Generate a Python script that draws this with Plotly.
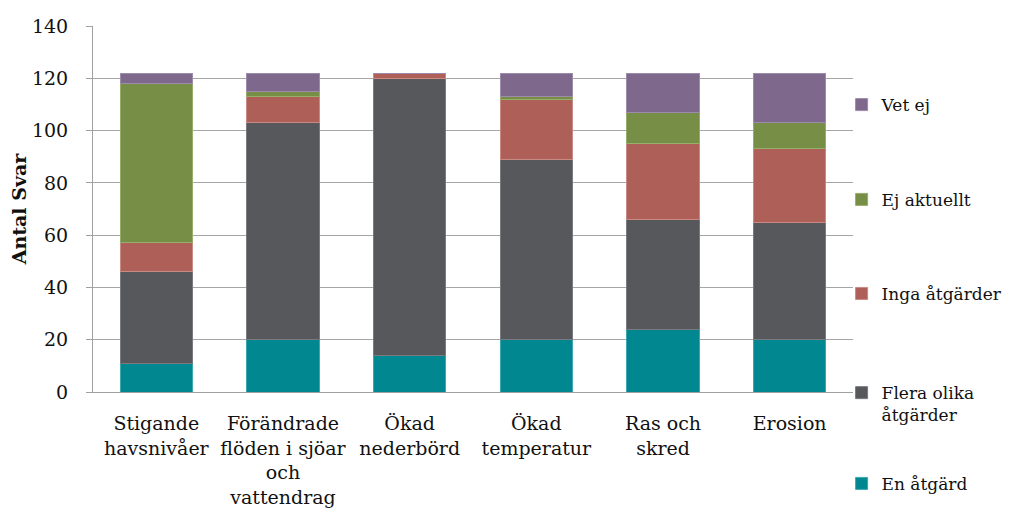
import plotly.graph_objects as go

categories = ["Stigande<br>havsnivåer", "Förändrade<br>flöden i sjöar<br>och<br>vattendrag",
              "Ökad<br>nederbörd", "Ökad<br>temperatur", "Ras och<br>skred", "Erosion"]

en_atgard = [11, 20, 14, 20, 24, 20]
flera_olika = [35, 83, 106, 69, 42, 45]
inga_atgarder = [11, 10, 2, 23, 29, 28]
ej_aktuellt = [61, 2, 0, 1, 12, 10]
vet_ej = [4, 7, 0, 9, 15, 19]

FONT = "DejaVu Serif"

series = [
    ("En åtgärd", en_atgard, "#00878F", "#3aa9b0", "legend5"),
    ("Flera olika<br>åtgärder", flera_olika, "#57585C", "#7a7b80", "legend4"),
    ("Inga åtgärder", inga_atgarder, "#AE5F57", "#c98a83", "legend3"),
    ("Ej aktuellt", ej_aktuellt, "#768E45", "#97ad6c", "legend2"),
    ("Vet ej", vet_ej, "#7E698D", "#9d8bab", "legend6"),
]

fig = go.Figure()
for name, vals, color, edge, leg in series:
    fig.add_trace(go.Bar(
        x=categories, y=vals, name=name,
        marker=dict(color=color, line=dict(color=edge, width=1)),
        legend=leg
    ))

# each legend entry gets its own box so the spacing follows the original
def legend_box(y, valign="middle"):
    return dict(x=0.985, xanchor="left", y=y, yanchor="middle", valign=valign,
                font=dict(family=FONT, size=17, color="#111111"),
                bgcolor="rgba(0,0,0,0)", itemclick=False)

fig.update_layout(
    barmode="stack",
    bargap=0.43,
    width=1014, height=520,
    # page body adds an 8px offset, so margins are shifted to compensate
    margin=dict(l=85, r=169, t=18, b=136, autoexpand=False),
    paper_bgcolor="white", plot_bgcolor="white",
    font=dict(family=FONT, size=19, color="#111111"),
    legend=dict(visible=False),
    legend6=legend_box(0.784),
    legend2=legend_box(0.525),
    legend3=legend_box(0.268),
    legend4=legend_box(-0.033, "top"),
    legend5=legend_box(-0.251),
    xaxis=dict(showline=True, linecolor="#a0a0a0", linewidth=1, ticks="",
               ticklabelstandoff=14, tickfont=dict(family=FONT, size=19), automargin=False),
    yaxis=dict(range=[0, 140], dtick=20, showgrid=True, gridcolor="#a6a6a6", gridwidth=1,
               showline=True, linecolor="#a0a0a0", linewidth=1, ticks="outside",
               ticklen=6, tickcolor="#a0a0a0", ticklabelstandoff=14, zeroline=False,
               tickfont=dict(family=FONT, size=19), automargin=False,
               title=dict(text="<b>Antal Svar</b>", font=dict(family=FONT, size=19), standoff=10)),
)

fig.write_html("out.html")
